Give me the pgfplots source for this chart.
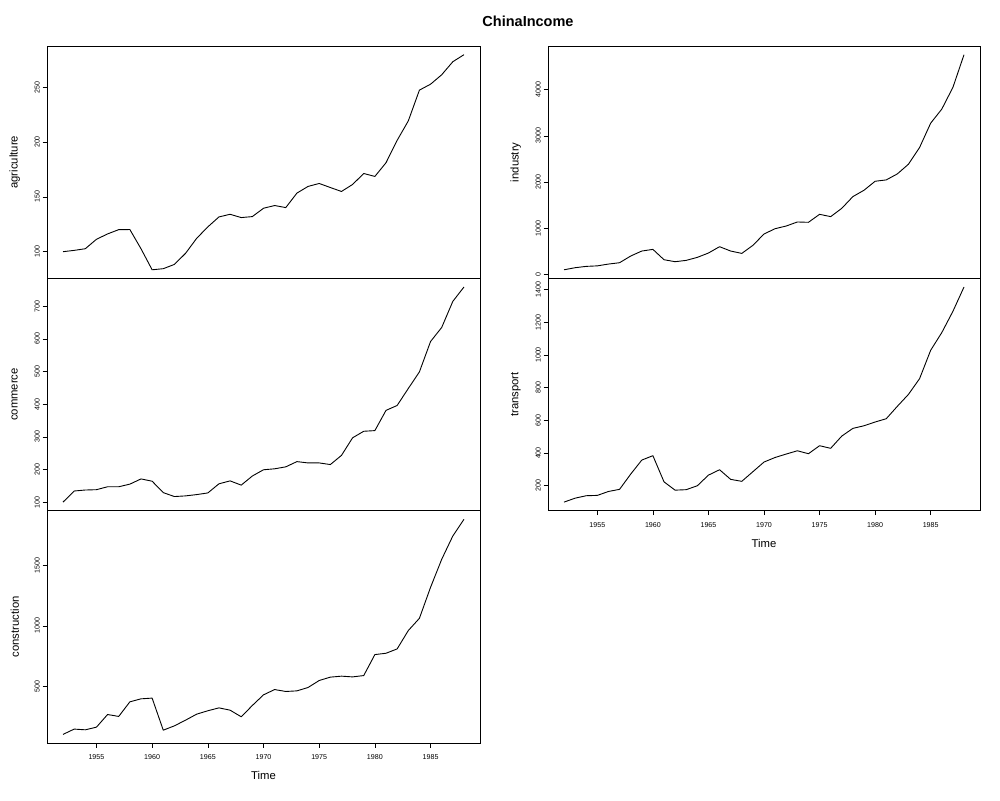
\documentclass[border=0pt]{standalone}
\usepackage{pgfplots}
\usepackage{pgfplotstable}
\pgfplotsset{compat=1.18}
\usepackage{fontspec}
\setmainfont{Liberation Sans}

\pgfplotstableread{
year agri ind cons trans comm
1952 100.0 100 100 100 100
1953 101.2 145 144 124 134
1954 102.7 174 138 139 137
1955 111.3 185 160 141 138
1956 116.2 224 265 165 147
1957 120.1 253 249 178 147
1958 120.2 398 370 271 155
1959 102.7 506 395 357 171
1960 83.5 542 401 384 164
1961 84.5 318 135 224 129
1962 88.4 275 171 173 117
1963 98.5 304 218 176 119
1964 112.2 369 268 200 123
1965 122.6 463 296 265 128
1966 131.7 600 320 298 156
1967 134.1 506 301 239 165
1968 131.1 455 246 227 152
1969 132.0 629 340 286 180
1970 139.6 875 428 345 199
1971 142.1 990 472 373 202
1972 140.2 1048 456 394 208
1973 153.4 1135 461 414 224
1974 159.5 1128 489 396 220
1975 162.2 1301 547 445 220
1976 158.5 1251 575 429 215
1977 154.9 1431 583 504 243
1978 161.3 1685 577 551 297
1979 171.3 1822 588 567 317
1980 168.6 2017 762 590 319
1981 181.1 2046 773 610 381
1982 201.5 2176 809 686 396
1983 219.2 2386 961 759 448
1984 247.3 2747 1063 855 499
1985 252.7 3275 1320 1029 592
1986 261.3 3579 1552 1137 635
1987 273.2 4049 1746 1267 715
1988 279.6 4757 1884 1416 759
}\data

\pgfplotsset{
  ts/.style={
    scale only axis,
    height=232.3pt,
    xmin=1950.56, xmax=1989.44,
    enlarge x limits=false,
    enlarge y limits=0.04,
    axis line style={line width=0.8pt},
    tick align=outside,
    major tick length=4.5pt,
    tick style={line width=0.6pt, black},
    ytick pos=left,
    xtick pos=bottom,
    /pgf/number format/assume math mode=true,
    /pgf/number format/1000 sep={},
    ticklabel style={font=\fontsize{7.1}{8}\selectfont},
    yticklabel style={rotate=90, anchor=south, inner sep=2.5pt},
    xticklabel style={inner sep=7pt},
    every axis y label/.style={at={(axis description cs:-0.0745,0.5)}, rotate=90, anchor=center, font=\fontsize{11.3}{13}\selectfont},
    every axis x label/.style={at={(axis description cs:0.5,0)}, anchor=north, yshift=-25pt, font=\fontsize{11.3}{13}\selectfont},
  },
  line/.style={black, line width=0.9pt, line join=round, no marks},
}

\begin{document}
\begin{tikzpicture}
\useasboundingbox (0,0) rectangle (1000pt,800pt);
\node[font=\bfseries\fontsize{14.5}{16}\selectfont] at (528pt,779pt) {ChinaIncome};

% agriculture
\begin{axis}[ts, at={(47pt,521.6pt)}, anchor=south west, width=433pt,
  xtick=\empty, ytick={100,150,200,250}, ylabel={agriculture}]
\addplot[line] table[x=year,y=agri] {\data};
\end{axis}

% commerce
\begin{axis}[ts, at={(47pt,289.3pt)}, anchor=south west, width=433pt,
  xtick=\empty, ytick={100,200,...,700}, ylabel={commerce}]
\addplot[line] table[x=year,y=comm] {\data};
\end{axis}

% construction
\begin{axis}[ts, at={(47pt,57pt)}, anchor=south west, width=433pt,
  xtick={1955,1960,...,1985}, ytick={500,1000,1500}, ylabel={construction}, xlabel={Time}]
\addplot[line] table[x=year,y=cons] {\data};
\end{axis}

% industry
\begin{axis}[ts, at={(548pt,521.6pt)}, anchor=south west, width=432pt,
  xtick=\empty, ytick={0,1000,...,4000}, ylabel={industry}]
\addplot[line] table[x=year,y=ind] {\data};
\end{axis}

% transport
\begin{axis}[ts, at={(548pt,289.3pt)}, anchor=south west, width=432pt,
  xtick={1955,1960,...,1985}, ytick={200,400,...,1400}, ylabel={transport}, xlabel={Time}]
\addplot[line] table[x=year,y=trans] {\data};
\end{axis}
\end{tikzpicture}
\end{document}
